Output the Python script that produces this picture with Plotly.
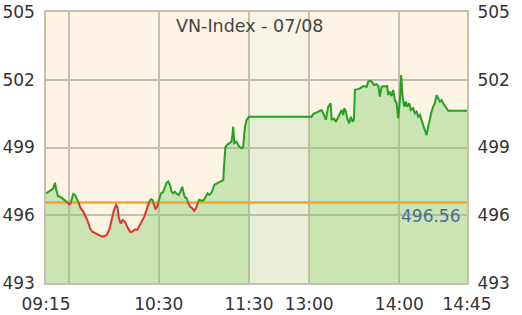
import plotly.graph_objects as go

# ---------------- data ----------------
TITLE = "VN-Index - 07/08"
REF_VALUE = 496.56
Y_TICKS = [493, 496, 499, 502, 505]
X_TICK_TIMES = ["09:15", "09:30", "10:30", "11:30", "13:00", "14:00", "14:45"]
X_TICK_LABELS = ["09:15", "", "10:30", "11:30", "13:00", "14:00", "14:45"]

times_am = [
    "09:15:00", "09:17:00", "09:18:31", "09:19:51", "09:21:00", "09:21:51", "09:23:00", "09:24:19",
    "09:25:50", "09:26:58", "09:28:06", "09:29:10", "09:30:17", "09:31:25", "09:33:09", "09:34:17",
    "09:35:49", "09:36:56", "09:38:04", "09:39:48", "09:41:24", "09:42:56", "09:44:15", "09:45:47",
    "09:48:03", "09:50:15", "09:52:26", "09:53:54", "09:55:22", "09:57:05", "09:58:41", "10:00:13",
    "10:01:33", "10:02:25", "10:03:32", "10:04:40", "10:06:00", "10:07:32", "10:09:04", "10:10:51",
    "10:12:23", "10:14:11", "10:15:42", "10:17:30", "10:19:02", "10:20:22", "10:21:29", "10:22:37",
    "10:23:41", "10:24:49", "10:25:56", "10:26:48", "10:27:56", "10:29:16", "10:30:20", "10:31:28",
    "10:32:59", "10:34:07", "10:35:15", "10:36:19", "10:37:27", "10:38:35", "10:39:38", "10:40:46",
    "10:41:54", "10:43:26", "10:44:46", "10:45:38", "10:46:34", "10:47:25", "10:48:33", "10:49:37",
    "10:50:44", "10:52:16", "10:53:36", "10:54:44", "10:55:52", "10:56:56", "10:58:31", "11:00:03",
    "11:01:11", "11:02:31", "11:03:35", "11:04:43", "11:05:50", "11:06:54", "11:09:22", "11:11:22",
    "11:12:53", "11:13:41", "11:14:21", "11:15:21", "11:16:41", "11:18:20", "11:19:00", "11:19:32",
    "11:20:12", "11:21:48", "11:23:31", "11:25:07", "11:26:11", "11:27:19", "11:28:26", "11:29:31",
    "11:30:00",
]
values_am = [
    496.97, 497.04, 497.12, 497.19, 497.44, 497.12, 496.85, 496.82,
    496.75, 496.71, 496.64, 496.60, 496.48, 496.53, 496.94, 496.90,
    496.68, 496.53, 496.31, 496.16, 495.94, 495.71, 495.42, 495.27,
    495.20, 495.13, 495.05, 495.08, 495.13, 495.35, 495.79, 496.23,
    496.45, 496.38, 495.86, 495.64, 495.79, 495.71, 495.49, 495.27,
    495.27, 495.38, 495.35, 495.57, 495.71, 495.94, 496.16, 496.38,
    496.60, 496.71, 496.68, 496.45, 496.26, 496.45, 496.75, 496.97,
    497.04, 497.26, 497.44, 497.49, 497.34, 497.04, 496.97, 497.04,
    496.94, 496.90, 497.12, 497.26, 496.97, 496.79, 496.75, 496.53,
    496.38, 496.31, 496.20, 496.31, 496.53, 496.68, 496.64, 496.68,
    496.82, 496.97, 496.90, 496.97, 497.12, 497.34, 497.43, 497.52,
    497.56, 498.45, 499.02, 499.11, 499.19, 499.26, 499.55, 499.92,
    499.19, 499.26, 499.04, 498.96, 499.04, 499.92, 500.22, 500.34,
    500.36,
]

times_pm = [
    "13:00:00", "13:01:40", "13:02:44", "13:06:03", "13:08:19", "13:09:50", "13:11:10", "13:12:42",
    "13:14:18", "13:14:58", "13:16:29", "13:17:49", "13:19:21", "13:20:29", "13:21:37", "13:22:40",
    "13:23:20", "13:24:28", "13:25:20", "13:26:40", "13:27:47", "13:28:55", "13:29:47", "13:30:27",
    "13:31:59", "13:33:47", "13:35:58", "13:38:14", "13:39:18", "13:40:53", "13:42:13", "13:43:05",
    "13:44:53", "13:46:05", "13:47:04", "13:48:12", "13:49:44", "13:51:04", "13:51:56", "13:52:35",
    "13:53:43", "13:54:51", "13:55:55", "13:57:03", "13:58:11", "13:59:14", "14:00:22", "14:01:14",
    "14:02:10", "14:03:14", "14:04:22", "14:05:14", "14:06:34", "14:07:41", "14:09:13", "14:10:21",
    "14:11:29", "14:12:32", "14:13:40", "14:14:48", "14:15:52", "14:16:59", "14:18:07", "14:19:11",
    "14:20:19", "14:21:27", "14:22:31", "14:23:38", "14:24:46", "14:25:50", "14:26:58", "14:28:06",
    "14:29:10", "14:31:25", "14:32:29", "14:45:00",
]
values_pm = [
    500.36, 500.36, 500.48, 500.59, 500.66, 500.44, 500.22, 500.81,
    500.96, 500.22, 500.29, 500.14, 500.36, 500.51, 500.66, 500.44,
    500.74, 500.59, 500.29, 500.07, 500.36, 500.14, 500.22, 501.55,
    501.58, 501.62, 501.72, 501.69, 501.91, 501.96, 501.87, 501.77,
    501.81, 501.72, 501.25, 501.69, 501.72, 501.69, 501.72, 501.32,
    501.47, 501.28, 501.55, 501.10, 500.96, 500.29, 501.10, 502.21,
    501.25, 500.81, 501.03, 500.81, 500.96, 500.66, 500.74, 500.51,
    500.59, 500.36, 500.44, 500.14, 499.99, 499.77, 499.55, 499.92,
    500.29, 500.59, 500.81, 500.96, 501.32, 501.18, 501.03, 501.10,
    500.96, 500.74, 500.63, 500.63,
]

# ---------------- layout helpers ----------------
LUNCH_SPAN = 40.0  # display width of the lunch break, in minutes-equivalent


def pos(t):
    parts = [int(p) for p in t.split(":")]
    h, m = parts[0], parts[1]
    s = parts[2] if len(parts) > 2 else 0
    mins = h * 60 + m + s / 60.0 - (9 * 60 + 15)
    if mins <= 135:
        return mins
    if mins < 225:
        return 135 + (mins - 135) * LUNCH_SPAN / 90.0
    return mins - 90 + LUNCH_SPAN


x_am = [pos(t) for t in times_am]
x_pm = [pos(t) for t in times_pm]
x_all = x_am + x_pm
y_all = values_am + values_pm
x_end = pos("14:45")
lunch_a, lunch_b = pos("11:30"), pos("13:00")

# insert crossing points with the reference so green/red segments join
lx, ly = [], []
for i in range(len(x_all)):
    lx.append(x_all[i])
    ly.append(y_all[i])
    if i < len(x_all) - 1:
        a, b = y_all[i] - REF_VALUE, y_all[i + 1] - REF_VALUE
        if a * b < 0:
            f = (REF_VALUE - y_all[i]) / (y_all[i + 1] - y_all[i])
            lx.append(x_all[i] + f * (x_all[i + 1] - x_all[i]))
            ly.append(REF_VALUE)
green_y = [v if v >= REF_VALUE else None for v in ly]
red_y = [v if v <= REF_VALUE else None for v in ly]

FONT = "DejaVu Sans"
GRID = "#C6BEAE"
FILL = "rgba(128,204,110,0.40)"
FILL_LUNCH = "rgba(128,204,110,0.12)"

fig = go.Figure()

# area fills
fig.add_trace(go.Scatter(x=x_am, y=values_am, mode="none", fill="tozeroy",
                         fillcolor=FILL, hoverinfo="skip"))
fig.add_trace(go.Scatter(x=[lunch_a, lunch_b], y=[values_am[-1], values_pm[0]], mode="none",
                         fill="tozeroy", fillcolor=FILL_LUNCH, hoverinfo="skip"))
fig.add_trace(go.Scatter(x=x_pm, y=values_pm, mode="none", fill="tozeroy",
                         fillcolor=FILL, hoverinfo="skip"))

# reference line
fig.add_trace(go.Scatter(x=[0, x_end], y=[REF_VALUE, REF_VALUE], mode="lines",
                         line=dict(color="#F2A52A", width=2.5), hoverinfo="skip"))

# price line, green above / red below reference
fig.add_trace(go.Scatter(x=lx, y=green_y, mode="lines",
                         line=dict(color="#25A025", width=2)))
fig.add_trace(go.Scatter(x=lx, y=red_y, mode="lines",
                         line=dict(color="#E0322C", width=2)))

# dummy on right axis so it renders
fig.add_trace(go.Scatter(x=[0], y=[REF_VALUE], yaxis="y2", mode="markers",
                         marker=dict(opacity=0), hoverinfo="skip"))

fig.add_shape(type="rect", xref="x", yref="paper", x0=lunch_a, x1=lunch_b, y0=0, y1=1,
              fillcolor="#F8F4E6", line=dict(width=0), layer="below")

tickfont = dict(family=FONT, size=17, color="#333333")

fig.update_layout(
    width=522, height=315,
    margin=dict(l=46, r=55, t=12, b=32, autoexpand=False),
    paper_bgcolor="white",
    plot_bgcolor="#FDF4E3",
    showlegend=False,
    xaxis=dict(range=[0, x_end], tickvals=[pos(t) for t in X_TICK_TIMES], ticktext=X_TICK_LABELS,
               showgrid=True, gridcolor=GRID, gridwidth=1.5, zeroline=False, automargin=False,
               showline=True, linecolor=GRID, linewidth=1.5, mirror=True,
               ticks="outside", ticklen=5, tickcolor="rgba(0,0,0,0)", tickfont=tickfont),
    yaxis=dict(range=[493, 505], tickvals=Y_TICKS, showgrid=True, gridcolor=GRID, gridwidth=1.5,
               zeroline=False, showline=True, linecolor=GRID, linewidth=1.5, mirror=True,
               automargin=False,
               ticks="outside", ticklen=6, tickcolor="rgba(0,0,0,0)", tickfont=tickfont),
    yaxis2=dict(range=[493, 505], tickvals=Y_TICKS, overlaying="y", side="right",
                showgrid=False, zeroline=False, showline=False, automargin=False,
                ticks="outside", ticklen=6, tickcolor="rgba(0,0,0,0)", tickfont=tickfont),
    annotations=[
        dict(text=TITLE, xref="paper", yref="paper", x=0.483, y=0.95, xanchor="center",
             yanchor="middle", showarrow=False, font=dict(family=FONT, size=17.5, color="#444444")),
        dict(text=f"{REF_VALUE:.2f}", xref="paper", yref="y", x=0.988, y=REF_VALUE,
             xanchor="right", yanchor="middle", yshift=-13.5, showarrow=False,
             font=dict(family=FONT, size=17, color="#4A6D9C")),
    ],
)

fig.write_html("out.html")
